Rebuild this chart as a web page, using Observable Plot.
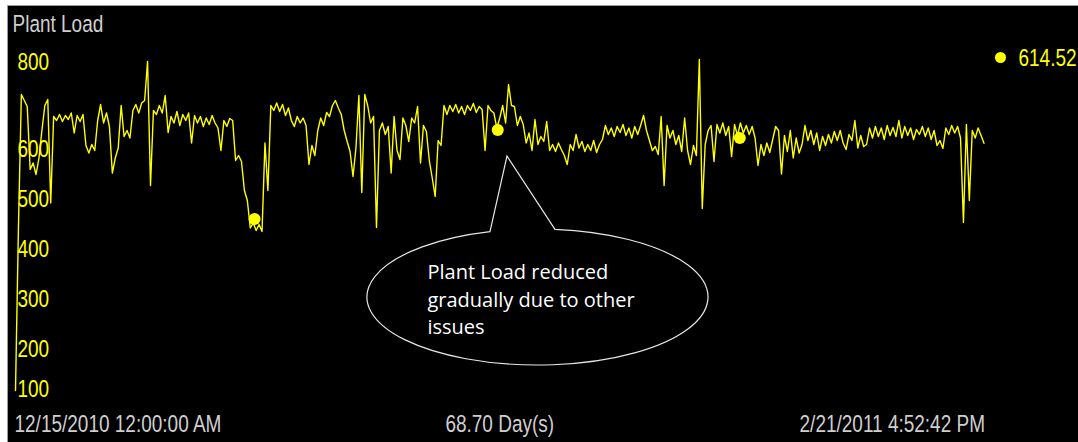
<!DOCTYPE html>
<html><head><meta charset="utf-8">
<script src="https://cdn.jsdelivr.net/npm/d3@7"></script>
<script src="https://cdn.jsdelivr.net/npm/@observablehq/plot@0.6"></script>
<style>
html,body{margin:0;padding:0;background:#fff;width:1078px;height:442px;overflow:hidden}
#frame{position:absolute;left:7px;top:5px;width:1070px;height:436px;background:#000;border-left:1px solid #9a9a9a;border-top:1px solid #9a9a9a}
</style></head><body><div id="frame"></div>
<script>
const title = "Plant Load";
const startTime = new Date(Date.UTC(2010, 11, 15, 0, 0, 0));
const endTime = new Date(Date.UTC(2011, 1, 21, 16, 52, 42));
const yTicksMiddle = [200, 300, 400, 500, 600];
const yTickTop = [800];
const yTickBottom = [100];
// Plant load samples, evenly spaced from start to end time
const load = [
  120, 445, 712, 700, 688, 562, 575, 552, 585, 640,
  690, 702, 495, 668, 660, 672, 658, 670, 662, 675,
  635, 670, 658, 672, 610, 595, 612, 600, 660, 692,
  655, 675, 648, 555, 585, 605, 690, 628, 640, 625,
  680, 692, 675, 695, 700, 778, 530, 680, 672, 690,
  675, 710, 636, 668, 655, 678, 650, 672, 660, 675,
  615, 670, 655, 668, 648, 665, 652, 670, 655, 645,
  600, 660, 648, 664, 660, 580, 590, 578, 520, 500,
  445, 455, 440, 452, 438, 615, 520, 690, 680, 695,
  678, 692, 670, 685, 660, 648, 668, 655, 665, 650,
  572, 610, 590, 640, 665, 650, 676, 668, 690, 700,
  685, 672, 640, 618, 598, 548, 605, 710, 516, 712,
  690, 655, 668, 446, 640, 655, 632, 648, 555, 668,
  600, 582, 665, 650, 618, 665, 655, 688, 575, 650,
  638, 580, 545, 508, 620, 610, 690, 672, 690, 678,
  692, 675, 688, 672, 690, 680, 694, 676, 688, 682,
  600, 690, 680, 675, 645, 665, 690, 655, 732, 690,
  688, 650, 668, 652, 615, 635, 600, 662, 612, 628,
  618, 658, 600, 612, 598, 615, 602, 590, 572, 612,
  600, 632, 605, 618, 598, 612, 600, 620, 596, 612,
  622, 650, 632, 645, 628, 648, 636, 652, 630, 645,
  625, 648, 632, 650, 670, 640, 620, 600, 608, 592,
  668, 530, 650, 625, 640, 612, 630, 598, 665, 600,
  572, 610, 590, 782, 484, 612, 640, 650, 578, 652,
  635, 655, 630, 648, 588, 652, 630, 655, 635, 650,
  632, 648, 625, 570, 612, 590, 615, 596, 622, 648,
  640, 553, 630, 598, 640, 585, 625, 595, 612, 650,
  620, 640, 612, 635, 600, 628, 610, 632, 615, 638,
  620, 640, 615, 602, 632, 620, 660, 605, 630, 608,
  612, 645, 625, 648, 628, 645, 622, 650, 630, 646,
  628, 660, 625, 648, 630, 645, 622, 642, 632, 648,
  628, 645, 622, 640, 610, 620, 604, 645, 632, 650,
  635, 648, 625, 456, 652, 500, 640, 625, 645, 630, 614.52
];
const markerDays = [16.96, 34.21, 51.38];
const markerValues = [463, 641, 625];
const currentValue = load[load.length - 1];
const calloutLines = ["Plant Load reduced", "gradually due to other", "issues"];
const calloutTipDay = 34.90;
const calloutTipValue = 588;

const DAY = 864e5;
const span = endTime - startTime;
const times = load.map((_, i) => new Date(+startTime + i * span / (load.length - 1)));
const series = load.map((v, i) => ({time: times[i], value: v}));
const markers = markerDays.map((d, i) => ({time: new Date(+startTime + d * DAY), value: markerValues[i]}));
const fmt = d3.utcFormat("%-m/%-d/%Y %-I:%M:%S %p");
const startLabel = fmt(startTime);
const endLabel = fmt(endTime);
const spanLabel = (span / DAY).toFixed(2) + " Day(s)";

const GRAY = "#cfcfcf", YEL = "#ffff00";

function callout(index, scales) {
  const tx = scales.x(new Date(+startTime + calloutTipDay * DAY));
  const ty = scales.y(calloutTipValue);
  const cx = tx + 30.5, cy = ty + 141, rx = 170.5, ry = 68;
  const onTop = (dx) => cy - ry * Math.sqrt(1 - (dx / rx) ** 2);
  const lx = tx - 17, rxp = tx + 48;
  const ly = onTop(lx - cx), ry2 = onTop(rxp - cx);
  const g = d3.create("svg:g").attr("class", "callout");
  g.append("path")
    .attr("d", `M${lx},${ly} A${rx},${ry} 0 1 0 ${rxp},${ry2} L${tx},${ty} Z`)
    .attr("fill", "#000").attr("stroke", "#e6e6e6").attr("stroke-width", 1.2);
  const t = g.append("text").attr("fill", "#fff").attr("text-anchor", "start")
    .attr("font-family", "'Open Sans', sans-serif").attr("font-size", 20);
  calloutLines.forEach((s, i) => {
    t.append("tspan").attr("x", tx - 79.5).attr("y", ty + 123 + i * 27.5).text(s);
  });
  return g.node();
}

const axisOpts = {anchor: "left", tickSize: 0, tickPadding: 0, textAnchor: "start", dx: 2, fill: YEL, fontSize: 19, label: null};
const txt = {lineAnchor: "middle", fontSize: 19};

const chart = Plot.plot({
  width: 1070, height: 436,
  marginLeft: 7, marginRight: 94.5, marginTop: 44, marginBottom: 42,
  x: {type: "utc", domain: [startTime, endTime], axis: null},
  y: {domain: [100, 800], axis: null},
  style: {background: "#000", color: YEL, fontFamily: "'Liberation Sans', Arial, sans-serif", fontSize: "19px", overflow: "visible"},
  marks: [
    Plot.axisY(yTicksMiddle, {...axisOpts, dy: -1.5}),
    Plot.axisY(yTickTop, {...axisOpts, dy: 11.5}),
    Plot.axisY(yTickBottom, {...axisOpts, dy: -11.5}),
    Plot.line(series, {x: "time", y: "value", stroke: YEL, strokeWidth: 1.4}),
    Plot.dot(markers, {x: "time", y: "value", r: 6, fill: YEL}),
    callout,
    Plot.text([title], {...txt, text: d => d, frameAnchor: "top-left", dx: -3, dy: -26.4, textAnchor: "start", fill: GRAY}),
    Plot.text([startLabel], {...txt, x: [startTime], text: d => d, frameAnchor: "bottom", dy: 24, dx: -1, textAnchor: "start", fill: GRAY}),
    Plot.text([spanLabel], {...txt, x: [new Date(+startTime + span / 2)], text: d => d, frameAnchor: "bottom", dy: 24, textAnchor: "middle", fill: GRAY}),
    Plot.text([endLabel], {...txt, x: [endTime], text: d => d, frameAnchor: "bottom", dy: 24, dx: 1, textAnchor: "end", fill: GRAY}),
    Plot.dot([currentValue], {frameAnchor: "top-right", dx: 16.5, dy: 7, r: 5.5, fill: YEL}),
    Plot.text([currentValue], {...txt, text: d => d.toFixed(2), frameAnchor: "top-right", dx: 34.5, dy: 7.8, textAnchor: "start", fill: YEL})
  ]
});

// vertically stretch the Arial-like labels, as in the reference
chart.querySelectorAll("text").forEach(t => {
  if (t.closest(".callout")) return;
  const tr = t.getAttribute("transform");
  if (tr) t.setAttribute("transform", tr + " scale(1,1.27)");
  else {
    const x = parseFloat(t.getAttribute("x")) || 0, y = parseFloat(t.getAttribute("y")) || 0;
    t.setAttribute("transform", `translate(${x},${y}) scale(1,1.27) translate(${-x},${-y})`);
  }
});
document.getElementById("frame").appendChild(chart);
</script></body></html>
